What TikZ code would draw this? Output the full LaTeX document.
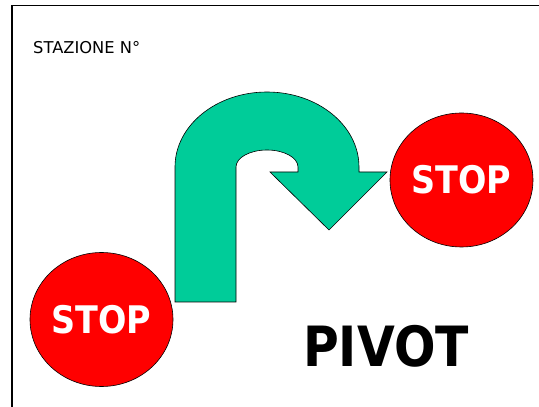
\documentclass[tikz,border=0pt]{standalone}
\usepackage{fontspec}
\usepackage{xcolor}
\usetikzlibrary{shapes.geometric,positioning}
\newfontfamily\signfont[FakeStretch=0.88]{DejaVu Sans}
\newfontfamily\labelfont{DejaVu Sans}
\definecolor{uturngreen}{HTML}{00CC99}

\begin{document}
\begin{tikzpicture}[x=1pt, y=1pt,
    stop_sign/.style={ellipse, draw=black, line width=0.6pt, fill=red,
      minimum width=143pt, minimum height=134pt, inner sep=0pt,
      text=white, font=\signfont\bfseries\fontsize{38}{40}\selectfont}]
    \useasboundingbox (0,0) rectangle (539,407);
    \draw[line width=1.3pt] (12,0) -- (12,401.5) -- (539,401.5);

    \node[anchor=base west, inner sep=0pt, font=\labelfont\fontsize{16.3}{18}\selectfont] at (33, 353) (station) {STAZIONE N°};

    \draw[fill=uturngreen, line width=0.6pt] (175,105) -- (175,240)
      arc[start angle=180, end angle=0, x radius=92, y radius=75]
      -- (359,235) -- (387,235) -- (329,177) -- (270,235) -- (298,235) -- (298,240)
      arc[start angle=0, end angle=180, x radius=31, y radius=17]
      -- (236,105) -- cycle;

    \node[stop_sign] at (101.5, 87.5) (stop_1) {STOP};
    \node[stop_sign] at (461.5, 227) (stop_2) {STOP};

    \node[anchor=base, font=\signfont\bfseries\fontsize{55.5}{58}\selectfont] at (386, 40) (pivot) {PIVOT};
  \end{tikzpicture}
\end{document}
